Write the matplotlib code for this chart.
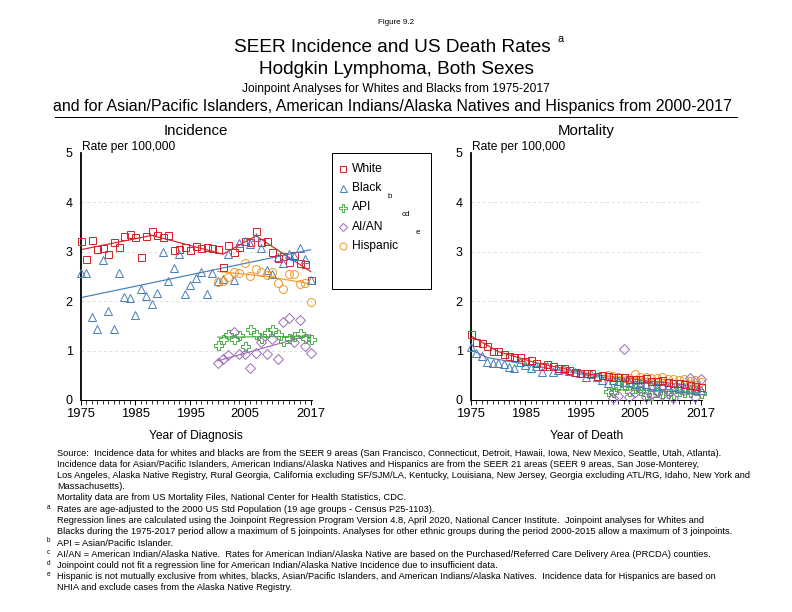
import numpy as np
import matplotlib
matplotlib.use("Agg")
import matplotlib.pyplot as plt
from matplotlib.lines import Line2D
from matplotlib.patches import Rectangle

plt.rcParams['font.family'] = ['Liberation Sans', 'DejaVu Sans']

# ---- data ----
years = list(range(1975, 2018))
years_recent = list(range(2000, 2018))

inc_white = [3.22, 2.85, 3.24, 3.06, 3.07, 2.95, 3.19, 3.10, 3.31, 3.35,
             3.30, 2.89, 3.31, 3.42, 3.34, 3.29, 3.34, 3.04, 3.06, 3.10,
             3.04, 3.12, 3.08, 3.09, 3.07, 3.06, 2.70, 3.13, 3.00, 3.10,
             3.22, 3.20, 3.42, 3.20, 3.22, 2.99, 2.88, 2.91, 2.80, 2.94,
             2.77, 2.75, 2.43]
inc_black = [2.57, 2.56, 1.67, 1.43, 2.84, 1.80, 1.43, 2.56, 2.09, 2.06,
             1.72, 2.25, 2.11, 1.94, 2.16, 3.00, 2.41, 2.67, 2.95, 2.14,
             2.32, 2.46, 2.59, 2.14, 2.56, 2.40, 2.45, 2.96, 2.42, 3.17,
             3.22, 3.15, 3.30, 3.08, 2.63, 2.55, 2.90, 2.77, 2.96, 2.92,
             3.08, 2.85, 2.43]
inc_api = [1.11, 1.23, 1.33, 1.23, 1.31, 1.09, 1.43, 1.33, 1.26, 1.37,
           1.44, 1.33, 1.20, 1.25, 1.29, 1.35, 1.26, 1.24]
inc_aian = [0.74, 0.82, 0.91, 1.37, 0.94, 0.93, 0.64, 0.96, 1.18, 0.93,
            1.23, 0.82, 1.58, 1.65, 1.18, 1.62, 1.09, 0.96]
inc_hisp = [2.38, 2.40, 2.49, 2.59, 2.56, 2.78, 2.51, 2.64, 2.59, 2.53,
            2.59, 2.36, 2.24, 2.55, 2.55, 2.34, 2.36, 1.99]

mort_white = [1.34, 1.17, 1.15, 1.10, 1.00, 0.99, 0.93, 0.89, 0.87, 0.87,
              0.78, 0.80, 0.75, 0.69, 0.72, 0.68, 0.65, 0.65, 0.61, 0.56,
              0.55, 0.55, 0.54, 0.48, 0.51, 0.48, 0.47, 0.47, 0.47, 0.43,
              0.43, 0.42, 0.44, 0.39, 0.39, 0.40, 0.36, 0.35, 0.34, 0.32,
              0.31, 0.28, 0.27]
mort_black = [1.07, 0.96, 0.90, 0.76, 0.74, 0.74, 0.73, 0.67, 0.64, 0.77,
              0.70, 0.64, 0.68, 0.57, 0.68, 0.57, 0.61, 0.62, 0.59, 0.57,
              0.55, 0.47, 0.52, 0.47, 0.40, 0.35, 0.40, 0.38, 0.37, 0.36,
              0.33, 0.35, 0.32, 0.31, 0.28, 0.30, 0.27, 0.26, 0.25, 0.24,
              0.22, 0.21, 0.20]
mort_api = [0.19, 0.16, 0.30, 0.30, 0.19, 0.24, 0.21, 0.12, 0.10, 0.17,
            0.15, 0.15, 0.12, 0.19, 0.17, 0.17, 0.20, 0.14]
mort_aian = [np.nan, 0.05, 0.08, 1.04, 0.06, 0.16, 0.25, 0.06, 0.12, 0.18,
             0.10, 0.20, 0.05, 0.25, 0.20, 0.45, 0.06, 0.42]
mort_hisp = [0.50, 0.48, 0.46, 0.45, 0.44, 0.53, 0.46, 0.47, 0.45, 0.44,
             0.46, 0.42, 0.42, 0.40, 0.42, 0.38, 0.40, 0.37]

# joinpoint regression lines (year, fitted rate at joinpoints)
inc_white_fit = ([1975, 1988, 2001, 2007, 2017], [3.04, 3.33, 2.95, 3.32, 2.60])
inc_black_fit = ([1975, 2017], [2.07, 3.04])
inc_api_fit = ([2000, 2017], [1.27, 1.29])
inc_aian_fit = ([2000, 2017], [0.79, 1.32])
inc_hisp_fit = ([2000, 2009, 2017], [2.60, 2.50, 2.35])

mort_white_fit = ([1975, 1980, 1987, 1997, 2017], [1.30, 0.98, 0.75, 0.52, 0.27])
mort_black_fit = ([1975, 1978, 1998, 2017], [1.02, 0.86, 0.47, 0.20])
mort_api_fit = ([2000, 2017], [0.22, 0.15])
mort_hisp_fit = ([2000, 2017], [0.48, 0.37])

legend_names = ['White', 'Black', 'API', 'AI/AN', 'Hispanic']
legend_sup = ['', 'b', 'cd', 'e', '']

RED = '#d7262b'
BLUE = '#4a80b8'
GREEN = '#4daf4a'
PURPLE = '#a06cbf'
ORANGE = '#f39a2e'

styles = {
    'White': dict(marker='s', color=RED, ms=7),
    'Black': dict(marker='^', color=BLUE, ms=8),
    'API': dict(marker='P', color=GREEN, ms=9),
    'AI/AN': dict(marker='D', color=PURPLE, ms=7),
    'Hispanic': dict(marker='o', color=ORANGE, ms=8),
}


def px(x, y):
    """figure pixel coords (792x612) -> figure fraction"""
    return x / 792, 1 - y / 612


def draw_series(ax, xs, ys, name):
    st = styles[name]
    ax.plot(xs, ys, linestyle='none', marker=st['marker'], ms=st['ms'],
            mfc='none', mec=st['color'], mew=1.0, clip_on=False, zorder=3)


def draw_fit(ax, fit, name):
    ax.plot(fit[0], fit[1], color=styles[name]['color'], lw=1.2, zorder=2)


def style_axes(ax, xlabel):
    ax.set_xlim(1975, 2017.2)
    ax.set_ylim(0, 5)
    ax.set_yticks([0, 1, 2, 3, 4, 5])
    ax.set_xticks([1975, 1985, 1995, 2005, 2017])
    ax.set_xticks(range(1975, 2018), minor=True)
    ax.tick_params(axis='y', length=0, pad=8, labelsize=12.5)
    ax.tick_params(axis='x', which='major', length=5, width=1, labelsize=13, pad=3)
    ax.tick_params(axis='x', which='minor', length=4, width=0.8)
    for side in ['top', 'right']:
        ax.spines[side].set_visible(False)
    ax.spines['left'].set_linewidth(1.8)
    ax.spines['bottom'].set_linewidth(1.0)
    for v in [1, 2, 3, 4]:
        ax.axhline(v, color='#dcdcdc', lw=0.8, ls=(0, (4, 3)), zorder=0)
    ax.set_xlabel(xlabel, fontsize=12, labelpad=10)


fig = plt.figure(figsize=(11, 8.5), dpi=72)

ax1 = fig.add_axes([80.7 / 792, 1 - 400 / 612, 231 / 792, 247.2 / 612])
ax2 = fig.add_axes([470.7 / 792, 1 - 400 / 612, 231 / 792, 247.2 / 612])

# Incidence
draw_fit(ax1, inc_white_fit, 'White')
draw_fit(ax1, inc_black_fit, 'Black')
draw_fit(ax1, inc_api_fit, 'API')
draw_fit(ax1, inc_aian_fit, 'AI/AN')
draw_fit(ax1, inc_hisp_fit, 'Hispanic')
draw_series(ax1, years, inc_white, 'White')
draw_series(ax1, years, inc_black, 'Black')
draw_series(ax1, years_recent, inc_api, 'API')
draw_series(ax1, years_recent, inc_aian, 'AI/AN')
draw_series(ax1, years_recent, inc_hisp, 'Hispanic')
style_axes(ax1, 'Year of Diagnosis')

# Mortality
draw_fit(ax2, mort_white_fit, 'White')
draw_fit(ax2, mort_black_fit, 'Black')
draw_fit(ax2, mort_api_fit, 'API')
draw_fit(ax2, mort_hisp_fit, 'Hispanic')
draw_series(ax2, years_recent, mort_hisp, 'Hispanic')
draw_series(ax2, years_recent, mort_api, 'API')
draw_series(ax2, years_recent, mort_aian, 'AI/AN')
draw_series(ax2, years, mort_black, 'Black')
draw_series(ax2, years, mort_white, 'White')
style_axes(ax2, 'Year of Death')

# panel titles
fig.text(*px(196, 131), 'Incidence', ha='center', va='center', fontsize=15)
fig.text(*px(586, 131), 'Mortality', ha='center', va='center', fontsize=15)
fig.text(*px(82, 147), 'Rate per 100,000', ha='left', va='center', fontsize=12)
fig.text(*px(472, 147), 'Rate per 100,000', ha='left', va='center', fontsize=12)

# header
fig.text(*px(396, 22), 'Figure 9.2', ha='center', va='center', fontsize=8)
fig.text(*px(392, 47), 'SEER Incidence and US Death Rates', ha='center', va='center', fontsize=19)
fig.text(*px(557, 39), 'a', ha='left', va='center', fontsize=11)
fig.text(*px(396, 70), 'Hodgkin Lymphoma, Both Sexes', ha='center', va='center', fontsize=19)
fig.text(*px(396, 89), 'Joinpoint Analyses for Whites and Blacks from 1975-2017',
         ha='center', va='center', fontsize=12)
fig.text(*px(392, 106), 'and for Asian/Pacific Islanders, American Indians/Alaska Natives and Hispanics from 2000-2017',
         ha='center', va='center', fontsize=16)
fig.add_artist(Line2D([55 / 792, 737 / 792], [1 - 117 / 612] * 2, color='black', lw=1.0))

# legend, drawn by hand so the box and the stray superscripts sit where they do in the original
x0, y0 = px(332, 289)
x1, y1 = px(431, 153)
fig.add_artist(Rectangle((x0, y0), x1 - x0, y1 - y0, transform=fig.transFigure,
                         facecolor='white', edgecolor='black', lw=1.0))
for i, name in enumerate(legend_names):
    st = styles[name]
    ly = 169 + i * 19.25
    fig.add_artist(Line2D([343 / 792], [1 - ly / 612], linestyle='none', marker=st['marker'],
                          ms=st['ms'] - 1, mfc='none', mec=st['color'], mew=1.0))
    fig.text(*px(352, ly), name, ha='left', va='center', fontsize=12)
for i, sup in enumerate(legend_sup):
    if sup:
        fig.text(*px([0, 388, 402, 416, 0][i], 197 + (i - 1) * 18), sup,
                 fontsize=8, va='center', ha='left')

# footnotes
notes = [
    ('', 'Source:  Incidence data for whites and blacks are from the SEER 9 areas (San Francisco, Connecticut, Detroit, Hawaii, Iowa, New Mexico, Seattle, Utah, Atlanta).'),
    ('', 'Incidence data for Asian/Pacific Islanders, American Indians/Alaska Natives and Hispanics are from the SEER 21 areas (SEER 9 areas, San Jose-Monterey,'),
    ('', 'Los Angeles, Alaska Native Registry, Rural Georgia, California excluding SF/SJM/LA, Kentucky, Louisiana, New Jersey, Georgia excluding ATL/RG, Idaho, New York and'),
    ('', 'Massachusetts).'),
    ('', 'Mortality data are from US Mortality Files, National Center for Health Statistics, CDC.'),
    ('a', 'Rates are age-adjusted to the 2000 US Std Population (19 age groups - Census P25-1103).'),
    ('', 'Regression lines are calculated using the Joinpoint Regression Program Version 4.8, April 2020, National Cancer Institute.  Joinpoint analyses for Whites and'),
    ('', 'Blacks during the 1975-2017 period allow a maximum of 5 joinpoints. Analyses for other ethnic groups during the period 2000-2015 allow a maximum of 3 joinpoints.'),
    ('b', 'API = Asian/Pacific Islander.'),
    ('c', 'AI/AN = American Indian/Alaska Native.  Rates for American Indian/Alaska Native are based on the Purchased/Referred Care Delivery Area (PRCDA) counties.'),
    ('d', 'Joinpoint could not fit a regression line for American Indian/Alaska Native Incidence due to insufficient data.'),
    ('e', 'Hispanic is not mutually exclusive from whites, blacks, Asian/Pacific Islanders, and American Indians/Alaska Natives.  Incidence data for Hispanics are based on'),
    ('', 'NHIA and exclude cases from the Alaska Native Registry.'),
]
for i, (mark, line) in enumerate(notes):
    y = 453 + i * 11.25
    fig.text(*px(57, y), line, ha='left', va='center', fontsize=9.2)
    if mark:
        fig.text(*px(47, y - 2), mark, ha='left', va='center', fontsize=6.5)

fig.savefig('out.png', dpi=72)
